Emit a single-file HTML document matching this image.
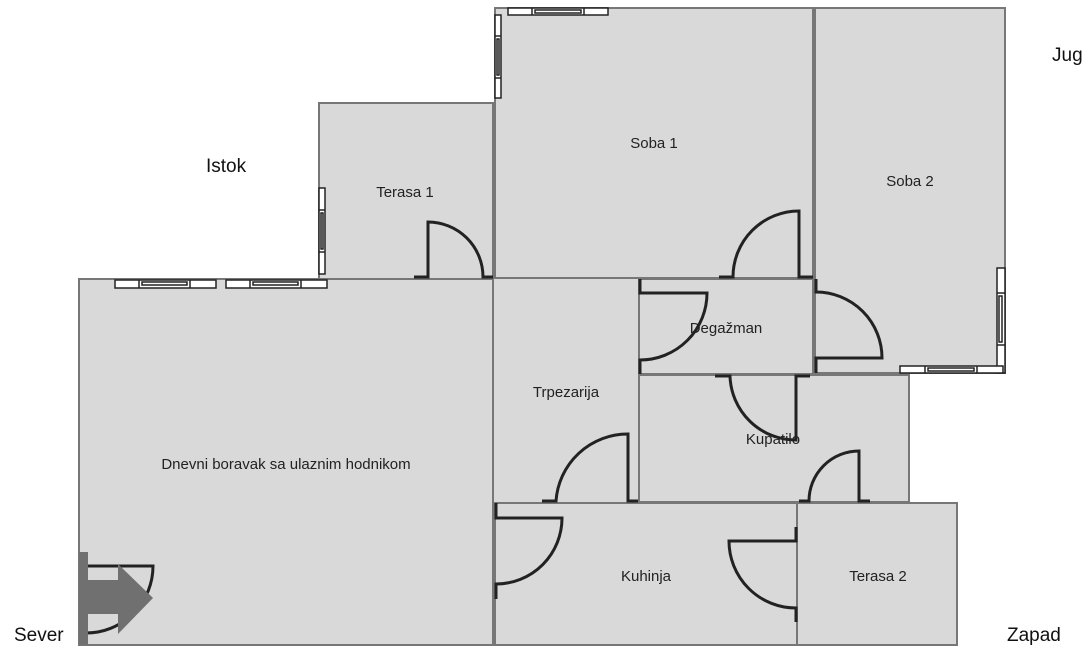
<!DOCTYPE html>
<html><head><meta charset="utf-8"><style>
html,body{margin:0;padding:0;background:#fff;}
svg{display:block;font-family:"Liberation Sans",sans-serif;}
</style></head><body>
<svg width="1088" height="656" viewBox="0 0 1088 656" xmlns="http://www.w3.org/2000/svg">
<g fill="#d9d9d9" stroke="#777" stroke-width="2">
<rect x="79" y="279" width="414" height="366"/>
<rect x="319" y="103" width="174" height="176"/>
<rect x="495" y="8" width="318" height="270"/>
<rect x="815" y="8" width="190" height="365"/>
<rect x="493" y="278" width="146" height="225"/>
<rect x="639" y="279" width="174" height="95"/>
<rect x="639" y="375" width="270" height="127"/>
<rect x="495" y="503" width="302" height="142"/>
<rect x="797" y="503" width="160" height="142"/>
</g>
<g fill="none" stroke="#222" stroke-width="3">
<path d="M414 277H428V222A55 55 0 0 1 483 277H493"/>
<path d="M719 277H733A66 66 0 0 1 799 211V277H813"/>
<path d="M640 279V293H707A67 67 0 0 1 640 360V374"/>
<path d="M816 279V292A66 66 0 0 1 882 358H816V373"/>
<path d="M715 376H730A66 66 0 0 0 796 440V376H810"/>
<path d="M799 501H809A50 50 0 0 1 859 451V501H870"/>
<path d="M542 501H556A72 72 0 0 1 628 434V501H638"/>
<path d="M496 503V518H562A66 66 0 0 1 496 584V599"/>
<path d="M796 527V541H729A67 67 0 0 0 796 608V622"/>
<path d="M86 552V566H153A67 67 0 0 1 86 633V645"/>
</g>
<g fill="#707070">
<rect x="79" y="552" width="9" height="93"/>
<rect x="88" y="580" width="32" height="34"/>
<polygon points="118,564 153,598 118,634"/>
</g>
<g fill="#fff" stroke="#222" stroke-width="1.5">
<rect x="508" y="8" width="100" height="7"/><line x1="532" y1="8" x2="532" y2="15"/><line x1="584" y1="8" x2="584" y2="15"/><rect x="535" y="10" width="46" height="3"/>
<rect x="495" y="15" width="6" height="83"/><line x1="495" y1="36" x2="501" y2="36"/><line x1="495" y1="78" x2="501" y2="78"/><rect x="497" y="39" width="2" height="36"/>
<rect x="319" y="188" width="6" height="86"/><line x1="319" y1="210" x2="325" y2="210"/><line x1="319" y1="252" x2="325" y2="252"/><rect x="321" y="213" width="2" height="36"/>
<rect x="115" y="280" width="101" height="8"/><line x1="139" y1="280" x2="139" y2="288"/><line x1="190" y1="280" x2="190" y2="288"/><rect x="142" y="282" width="45" height="3"/>
<rect x="226" y="280" width="101" height="8"/><line x1="250" y1="280" x2="250" y2="288"/><line x1="301" y1="280" x2="301" y2="288"/><rect x="253" y="282" width="45" height="3"/>
<rect x="997" y="268" width="8" height="105"/><line x1="997" y1="293" x2="1005" y2="293"/><line x1="997" y1="345" x2="1005" y2="345"/><rect x="999" y="296" width="3" height="46"/>
<rect x="900" y="366" width="103" height="7"/><line x1="925" y1="366" x2="925" y2="373"/><line x1="977" y1="366" x2="977" y2="373"/><rect x="928" y="368" width="46" height="3"/>
</g>
<g font-size="15" fill="#222" text-anchor="middle">
<text x="405" y="197">Terasa 1</text>
<text x="654" y="148">Soba 1</text>
<text x="910" y="186">Soba 2</text>
<text x="726" y="333">Degažman</text>
<text x="566" y="397">Trpezarija</text>
<text x="773" y="444">Kupatilo</text>
<text x="286" y="469">Dnevni boravak sa ulaznim hodnikom</text>
<text x="646" y="581">Kuhinja</text>
<text x="878" y="581">Terasa 2</text>
</g>
<g font-size="19" fill="#111">
<text x="206" y="172">Istok</text>
<text x="1052" y="61">Jug</text>
<text x="14" y="641">Sever</text>
<text x="1007" y="641">Zapad</text>
</g>
</svg>
</body></html>
